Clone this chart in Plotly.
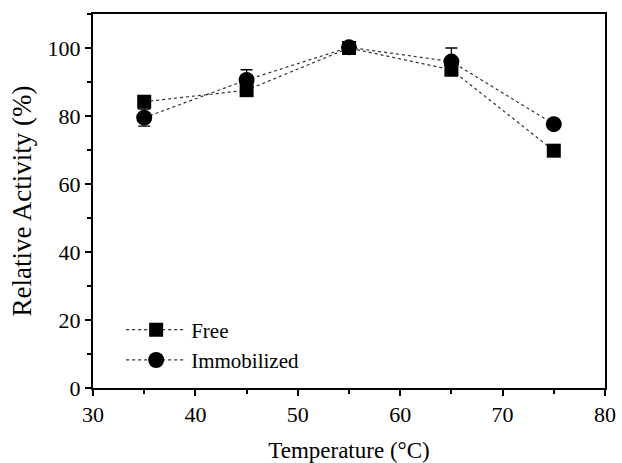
import plotly.graph_objects as go

temperature = [35, 45, 55, 65, 75]
free_activity = [84.2, 87.6, 100.0, 93.6, 69.8]
free_err = [0.8, 1.0, 0.5, 1.0, 0.5]
immob_activity = [79.5, 90.6, 100.2, 96.0, 77.6]
immob_err = [2.5, 3.0, 0.8, 4.0, 0.8]

x_ticks = [30, 40, 50, 60, 70, 80]
y_ticks = [0, 20, 40, 60, 80, 100]

font_family = "Times New Roman, Liberation Serif, serif"

fig = go.Figure()
fig.add_trace(go.Scatter(
    x=temperature, y=free_activity, name="Free", mode="lines+markers",
    line=dict(color="#333333", width=1.2, dash="dot"),
    marker=dict(symbol="square", size=14, color="black"),
    error_y=dict(type="data", array=free_err, color="black", thickness=1.3, width=6),
))
fig.add_trace(go.Scatter(
    x=temperature, y=immob_activity, name="Immobilized", mode="lines+markers",
    line=dict(color="#333333", width=1.2, dash="dot"),
    marker=dict(symbol="circle", size=16, color="black"),
    error_y=dict(type="data", array=immob_err, color="black", thickness=1.3, width=6),
))

axis_common = dict(
    showline=True, linecolor="black", linewidth=2, mirror=True,
    ticks="outside", tickcolor="black", tickwidth=2, ticklen=6,
    showgrid=False, zeroline=False, automargin=False,
    tickfont=dict(family=font_family, size=22, color="black"),
)

fig.update_xaxes(
    range=[30, 80], tickvals=x_ticks,
    minor=dict(dtick=5, ticks="outside", ticklen=4, tickcolor="black", tickwidth=2),
    title=dict(text="Temperature (°C)", font=dict(family=font_family, size=23, color="black"), standoff=24),
    **axis_common,
)
fig.update_yaxes(
    range=[0, 110], tickvals=y_ticks,
    minor=dict(dtick=10, ticks="outside", ticklen=4, tickcolor="black", tickwidth=2),
    title=dict(text="Relative Activity (%)", font=dict(family=font_family, size=27, color="black"), standoff=8),
    **axis_common,
)

fig.update_layout(
    width=622, height=463,
    margin=dict(l=93, r=17, t=14, b=75),
    paper_bgcolor="white", plot_bgcolor="white",
    font=dict(family=font_family, color="black"),
    showlegend=True,
    legend=dict(
        x=0.055, y=0.02, xanchor="left", yanchor="bottom",
        bgcolor="rgba(0,0,0,0)", borderwidth=0,
        font=dict(family=font_family, size=21, color="black"),
        itemwidth=60, tracegroupgap=0,
    ),
)

fig.write_html("out.html")
